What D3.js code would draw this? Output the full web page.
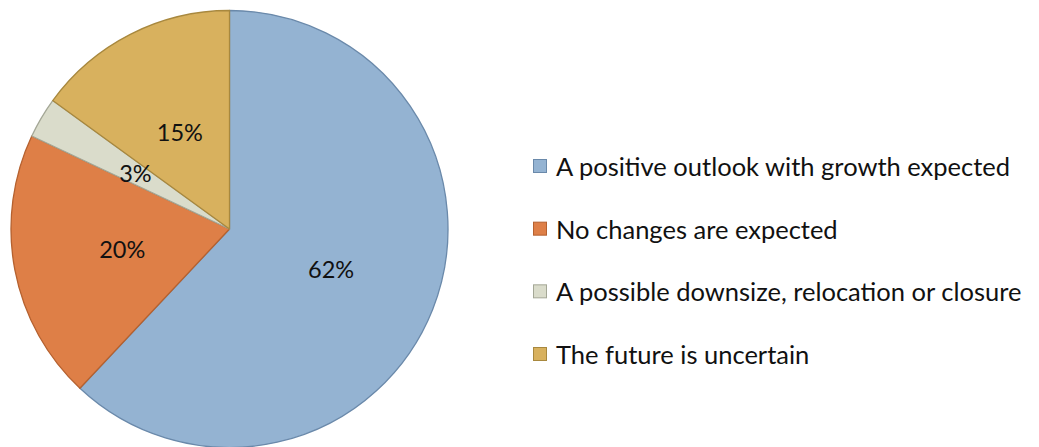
<!DOCTYPE html>
<html>
<head>
<meta charset="utf-8">
<script src="https://cdn.jsdelivr.net/npm/d3@7"></script>
<style>
  html, body { margin: 0; padding: 0; background: #fff; }
  svg { display: block; }
  text { font-family: Lato, "Open Sans", sans-serif; fill: #111; }
</style>
</head>
<body>
<svg id="chart" width="1039" height="447"></svg>
<script>
// Outlook survey responses (percent of respondents)
const categories = [
  "A positive outlook with growth expected",
  "No changes are expected",
  "A possible downsize, relocation or closure",
  "The future is uncertain"
];
const values = [62, 20, 3, 15];
const fills   = ["#94b3d2", "#de7f47", "#dadccb", "#d8b15e"];
const strokes = ["#6a89aa", "#b5612f", "#a4a796", "#a8883e"];

const svg = d3.select("#chart");
const cx = 229.5, cy = 229, R = 218.5;
const pctSize = 23.5;
const legendSize = 25.5;

const pie = d3.pie().sort(null).value(d => d)
  .startAngle(0).endAngle(2 * Math.PI);
const arcs = pie(values);
const arc = d3.arc().innerRadius(0).outerRadius(R);
const labelArc = d3.arc().innerRadius(R * 0.5).outerRadius(R * 0.5);

const g = svg.append("g").attr("transform", `translate(${cx},${cy})`);

g.selectAll("path.slice")
  .data(arcs)
  .join("path")
  .attr("class", "slice")
  .attr("d", arc)
  .attr("fill", (d, i) => fills[i])
  .attr("stroke", (d, i) => strokes[i])
  .attr("stroke-width", 1.3)
  .attr("stroke-linejoin", "round");

g.selectAll("text.pct")
  .data(arcs)
  .join("text")
  .attr("class", "pct")
  .attr("transform", d => `translate(${labelArc.centroid(d)})`)
  .attr("text-anchor", "middle")
  .attr("dominant-baseline", "central")
  .style("font-size", pctSize + "px")
  .text(d => d.data + "%");

// Legend
const legendY = d3.scalePoint()
  .domain(d3.range(categories.length))
  .range([166, 354]);
const box = 14;
const lx = 533;

const items = svg.append("g").selectAll("g.item")
  .data(categories)
  .join("g")
  .attr("class", "item")
  .attr("transform", (d, i) => `translate(${lx},${legendY(i)})`);

items.append("rect")
  .attr("x", 0.5)
  .attr("y", -box / 2 + 0.5)
  .attr("width", box - 1)
  .attr("height", box - 1)
  .attr("fill", (d, i) => fills[i])
  .attr("stroke", (d, i) => strokes[i])
  .attr("stroke-width", 1);

items.append("text")
  .attr("x", 23)
  .attr("y", 0)
  .attr("dominant-baseline", "central")
  .style("font-size", legendSize + "px")
  .text(d => d);
</script>
</body>
</html>
